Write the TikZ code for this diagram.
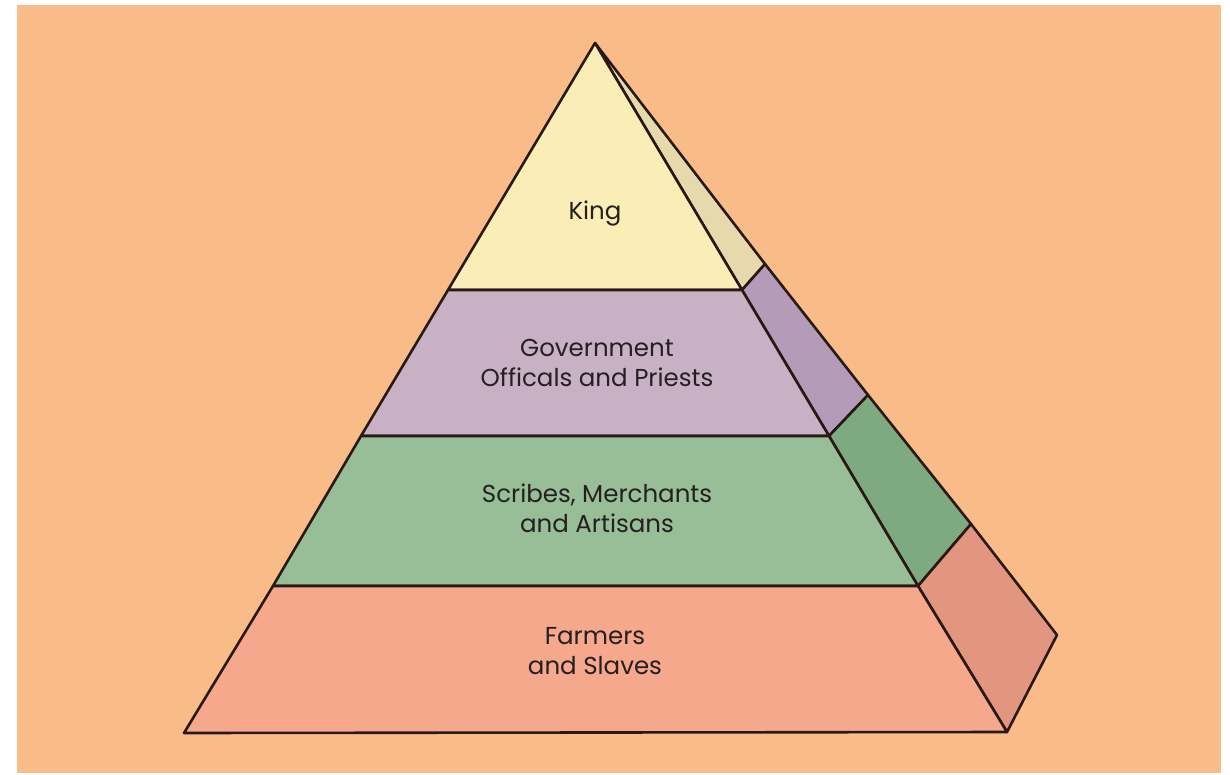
\documentclass[tikz,border=0pt]{standalone}
\usepackage{fontspec}
\setmainfont{Poppins}
\definecolor{bgwhite}{RGB}{255,255,255}
\definecolor{bgorange}{RGB}{249,188,136}
\definecolor{kingF}{RGB}{250,238,182}
\definecolor{kingS}{RGB}{230,218,172}
\definecolor{govF}{RGB}{201,177,197}
\definecolor{govS}{RGB}{180,156,185}
\definecolor{scrF}{RGB}{151,190,150}
\definecolor{scrS}{RGB}{126,170,130}
\definecolor{farF}{RGB}{245,168,140}
\definecolor{farS}{RGB}{226,150,128}
\definecolor{edge}{RGB}{40,25,20}
\definecolor{txt}{RGB}{36,32,32}
\tikzset{
  face/.style={draw=edge, line width=2.6pt, line join=round},
  label/.style={text=txt, font=\fontsize{24.5}{30}\selectfont, align=center, inner sep=0pt}
}
\begin{document}
\begin{tikzpicture}[x=1pt,y=-1pt]
\useasboundingbox (0,0) rectangle (1230,775);
\fill[bgwhite] (0,0) rectangle (1230,775);
\fill[bgorange] (17,5) rectangle (1221,773);
% key points
\coordinate (apex) at (595,43);
\coordinate (bl) at (184,733);
\coordinate (br) at (1007,732);
\coordinate (bb) at (1057,635);
% front boundaries
\coordinate (l1) at (448,290); \coordinate (r1) at (742,290);
\coordinate (l2) at (361,436); \coordinate (r2) at (829,436);
\coordinate (l3) at (273,586); \coordinate (r3) at (918,586);
% back edge points
\coordinate (b1) at (765,264);
\coordinate (b2) at (868,395);
\coordinate (b3) at (971,524);
% side faces
\filldraw[face, fill=kingS] (apex) -- (r1) -- (b1) -- cycle;
\filldraw[face, fill=govS] (r1) -- (r2) -- (b2) -- (b1) -- cycle;
\filldraw[face, fill=scrS] (r2) -- (r3) -- (b3) -- (b2) -- cycle;
\filldraw[face, fill=farS] (r3) -- (br) -- (bb) -- (b3) -- cycle;
% front faces
\filldraw[face, fill=kingF] (apex) -- (l1) -- (r1) -- cycle;
\filldraw[face, fill=govF] (l1) -- (l2) -- (r2) -- (r1) -- cycle;
\filldraw[face, fill=scrF] (l2) -- (l3) -- (r3) -- (r2) -- cycle;
\filldraw[face, fill=farF] (l3) -- (bl) -- (br) -- (r3) -- cycle;
% labels
\node[label] (king) at (595,213) {King};
\node[label] (gov) at (597,363) {Government\\Officals and Priests};
\node[label] (scr) at (597,508) {Scribes, Merchants\\and Artisans};
\node[label] (far) at (595,651) {Farmers\\and Slaves};
\end{tikzpicture}
\end{document}
